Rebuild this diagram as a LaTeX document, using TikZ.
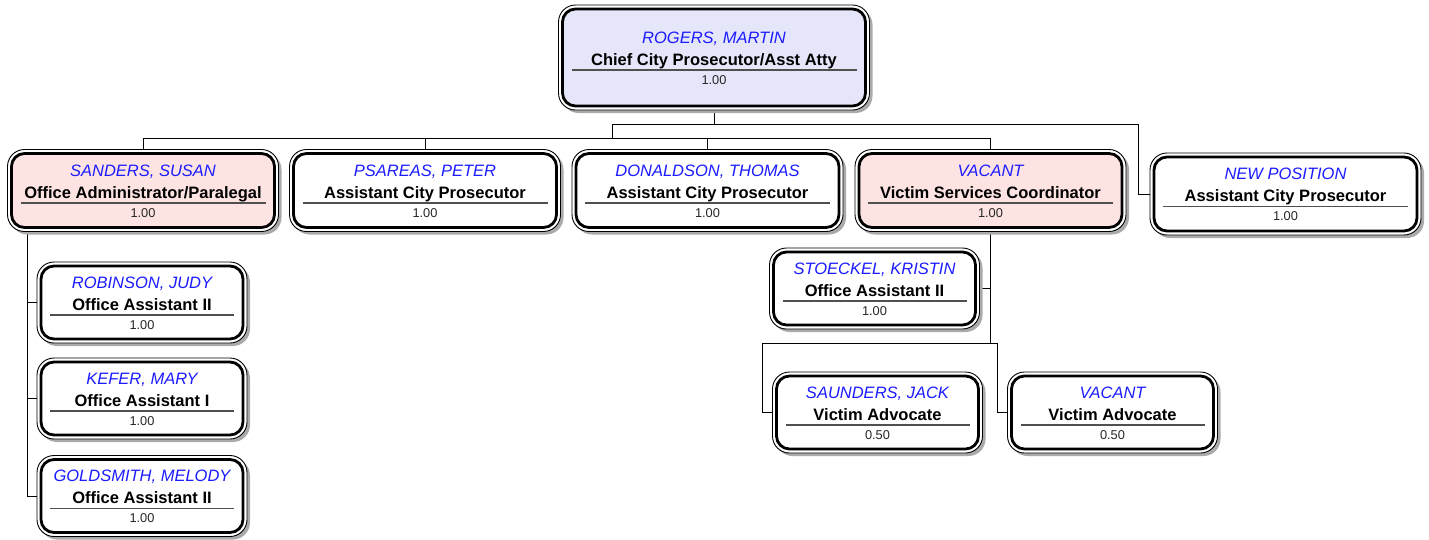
\documentclass[tikz,border=0pt]{standalone}
\usepackage{fontspec}
\setmainfont{Liberation Sans}
\usetikzlibrary{calc}
\pgfdeclarelayer{lines}
\pgfdeclarelayer{frame}
\pgfsetlayers{lines,frame,main}

\definecolor{nameblue}{RGB}{28,28,255}
\definecolor{rootfill}{RGB}{230,230,250}
\definecolor{pinkfill}{RGB}{253,228,226}
\definecolor{shadowc}{RGB}{170,170,170}
\definecolor{rulec}{RGB}{80,80,80}

\tikzset{
  card/.style={draw=black, line width=2.8pt, rounded corners=13pt,
    outer sep=0pt, inner sep=0pt, rectangle},
  outerline/.style={draw=black, line width=0.9pt, fill=white, rounded corners=17pt},
  shadowfill/.style={fill=shadowc, rounded corners=17pt},
  nametext/.style={font=\fontsize{16.5}{18}\selectfont\itshape, text=nameblue, inner sep=0pt},
  titletext/.style={font=\fontsize{16.5}{18}\selectfont\bfseries, text=black, inner sep=0pt},
  ftetext/.style={font=\fontsize{12.8}{14}\selectfont, text=black!85, inner sep=0pt},
  rulestyle/.style={draw=rulec, line width=1.1pt},
  conn/.style={draw=black, line width=0.9pt}
}

% \card{id}{x}{y}{width}{height}{fill}{name}{title}{fte}
\newcommand{\card}[9]{%
  \node[card, fill=#6, minimum width=#4pt, minimum height=#5pt] (#1) at (#2,#3) {};
  \node[nametext, anchor=base] (#1-n) at ([yshift=14.2pt]#1.center) {#7};
  \node[titletext, anchor=base] (#1-t) at ([yshift=-7.9pt]#1.center) {#8};
  \node[ftetext, anchor=base] (#1-f) at ([yshift=-26.6pt]#1.center) {#9};
  \draw[rulestyle] ($(#1.center)+(-#4/2+9,12.5)$) -- ($(#1.center)+(#4/2-9,12.5)$);
  \begin{pgfonlayer}{frame}
    \fill[shadowfill] ($(#1.north west)+(-1,-1)$) rectangle ($(#1.south east)+(7,7)$);
    \draw[outerline] ($(#1.north west)+(-4,-4)$) rectangle ($(#1.south east)+(4,4)$);
  \end{pgfonlayer}
}

\begin{document}
\begin{tikzpicture}[x=1pt,y=-1pt]
\useasboundingbox (0,0) rectangle (1429,539);

% top
\card{rogers}{714}{57.5}{303}{97}{rootfill}{ROGERS, MARTIN}{Chief City Prosecutor/Asst Atty}{1.00}

% first level
\card{sanders}{143}{190.5}{263}{74}{pinkfill}{SANDERS, SUSAN}{Office Administrator/Paralegal}{1.00}
\card{psareas}{425}{190.5}{263}{74}{white}{PSAREAS, PETER}{Assistant City Prosecutor}{1.00}
\card{donaldson}{707.5}{190.5}{263}{74}{white}{DONALDSON, THOMAS}{Assistant City Prosecutor}{1.00}
\card{vsc}{990.5}{190.5}{263}{74}{pinkfill}{VACANT}{Victim Services Coordinator}{1.00}
\card{newpos}{1285.5}{194}{263}{74}{white}{NEW POSITION}{Assistant City Prosecutor}{1.00}

% office staff
\card{robinson}{142}{302.5}{202}{73}{white}{ROBINSON, JUDY}{Office Assistant II}{1.00}
\card{kefer}{142}{398.5}{202}{73}{white}{KEFER, MARY}{Office Assistant I}{1.00}
\card{goldsmith}{142}{496}{202}{73}{white}{GOLDSMITH, MELODY}{Office Assistant II}{1.00}

% victim services
\card{stoeckel}{874.5}{288.5}{202}{73}{white}{STOECKEL, KRISTIN}{Office Assistant II}{1.00}
\card{saunders}{877.5}{412.5}{202}{73}{white}{SAUNDERS, JACK}{Victim Advocate}{0.50}
\card{vacantva}{1112.5}{412.5}{202}{73}{white}{VACANT}{Victim Advocate}{0.50}

% junctions
\coordinate (j0) at (714,124);
\coordinate (j1) at (612,124);
\coordinate (j2) at (1138,124);
\coordinate (j3) at (612,138);
\coordinate (sL) at (27,228);
\coordinate (v0) at (990.5,343);
\coordinate (va) at (762,343);
\coordinate (vb) at (997,343);

\begin{pgfonlayer}{lines}
  \draw[conn] (rogers.south) -- (j0);
  \draw[conn] (j1) -- (j2);
  \draw[conn] (j1) -- (j3);
  \draw[conn] (sanders.north |- j3) -- (vsc.north |- j3);
  \draw[conn] (sanders.north |- j3) -- (sanders.north);
  \draw[conn] (psareas.north |- j3) -- (psareas.north);
  \draw[conn] (donaldson.north |- j3) -- (donaldson.north);
  \draw[conn] (vsc.north |- j3) -- (vsc.north);
  \draw[conn] (j2) |- (newpos.west);

  \draw[conn] (sL) |- (goldsmith.west);
  \draw[conn] (sL |- robinson.west) -- (robinson.west);
  \draw[conn] (sL |- kefer.west) -- (kefer.west);

  \draw[conn] (vsc.south) -- (v0);
  \draw[conn] (stoeckel.east) -- (stoeckel.east -| v0);
  \draw[conn] (va) -- (vb);
  \draw[conn] (va) |- (saunders.west);
  \draw[conn] (vb) |- (vacantva.west);
\end{pgfonlayer}
\end{tikzpicture}
\end{document}
